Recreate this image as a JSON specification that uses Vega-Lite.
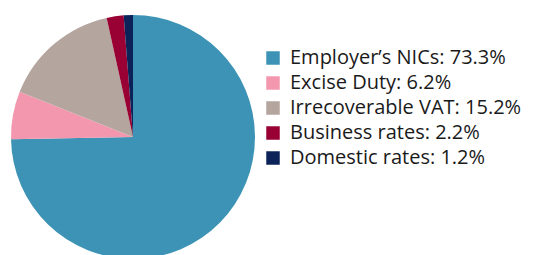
{
  "$schema": "https://vega.github.io/schema/vega-lite/v6.json",
  "width": 266,
  "height": 274,
  "padding": 0,
  "autosize": {"type": "pad"},
  "background": "white",
  "data": {
    "values": [
      {"label": "Employer’s NICs: 73.3%", "share": 73.3, "rank": 1},
      {"label": "Excise Duty: 6.2%", "share": 6.2, "rank": 2},
      {"label": "Irrecoverable VAT: 15.2%", "share": 15.2, "rank": 3},
      {"label": "Business rates: 2.2%", "share": 2.2, "rank": 4},
      {"label": "Domestic rates: 1.2%", "share": 1.2, "rank": 5}
    ]
  },
  "mark": {"type": "arc", "outerRadius": 122},
  "encoding": {
    "theta": {"field": "share", "type": "quantitative", "stack": true},
    "order": {"field": "rank", "type": "quantitative"},
    "color": {
      "field": "label",
      "type": "nominal",
      "sort": ["Employer’s NICs: 73.3%", "Excise Duty: 6.2%", "Irrecoverable VAT: 15.2%", "Business rates: 2.2%", "Domestic rates: 1.2%"],
      "scale": {
        "domain": ["Employer’s NICs: 73.3%", "Excise Duty: 6.2%", "Irrecoverable VAT: 15.2%", "Business rates: 2.2%", "Domestic rates: 1.2%"],
        "range": ["#3D93B5", "#F397AE", "#B4A69F", "#990033", "#0B2359"]
      },
      "legend": {
        "title": null,
        "orient": "none",
        "legendX": 263,
        "legendY": 48,
        "symbolType": "square",
        "symbolSize": 182,
        "symbolStrokeWidth": 0,
        "labelFontSize": 20,
        "labelFont": "Open Sans",
        "labelColor": "#1a1a1a",
        "labelOffset": 7,
        "rowPadding": 5,
        "labelLimit": 400
      }
    }
  },
  "config": {"view": {"stroke": null}}
}
